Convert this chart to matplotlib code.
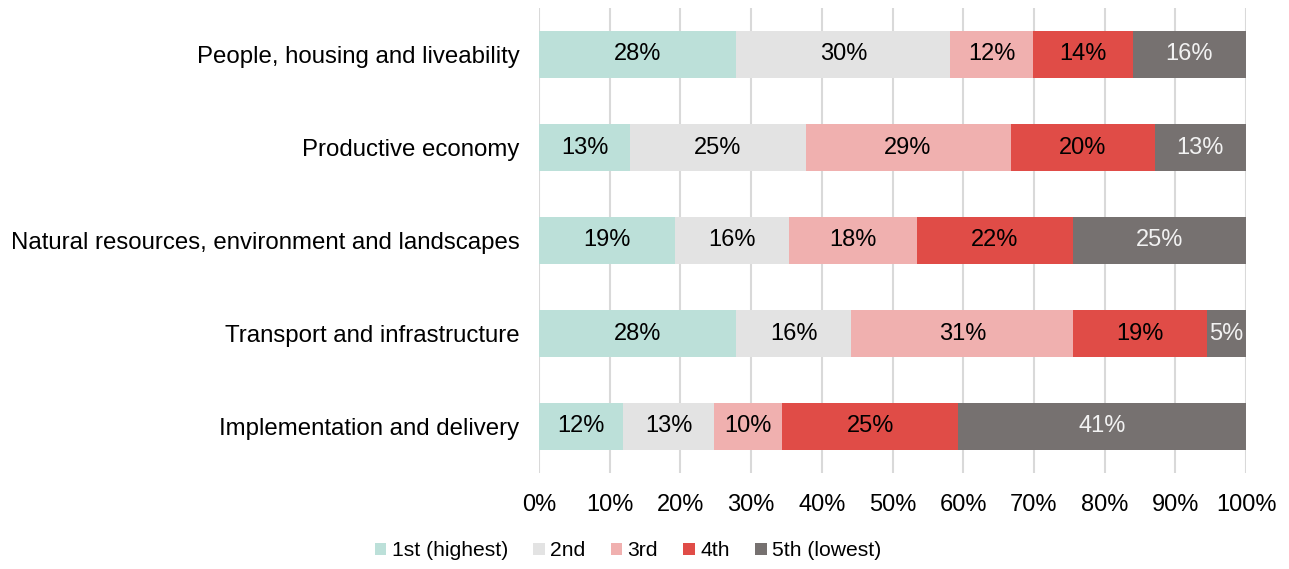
import matplotlib.pyplot as plt
import numpy as np
from matplotlib.ticker import PercentFormatter

plt.rcParams['font.family'] = ['Liberation Sans', 'DejaVu Sans']

categories = ["People, housing and liveability", "Productive economy",
              "Natural resources, environment and landscapes",
              "Transport and infrastructure", "Implementation and delivery"]
series_names = ["1st (highest)", "2nd", "3rd", "4th", "5th (lowest)"]
first = [27.9, 12.9, 19.2, 27.9, 11.9]
second = [30.3, 24.8, 16.2, 16.3, 12.9]
third = [11.7, 29.0, 18.1, 31.4, 9.6]
fourth = [14.1, 20.4, 22.0, 18.9, 24.9]
fifth = [16.0, 12.9, 24.5, 5.5, 40.7]
labels = [
    ["28%", "13%", "19%", "28%", "12%"],
    ["30%", "25%", "16%", "16%", "13%"],
    ["12%", "29%", "18%", "31%", "10%"],
    ["14%", "20%", "22%", "19%", "25%"],
    ["16%", "13%", "25%", "5%", "41%"],
]

colors = ["#bce0d9", "#e3e3e3", "#f0b0af", "#e04c47", "#767170"]
text_colors = ["black", "black", "black", "black", "#f2f2f2"]
FS = 17

fig = plt.figure(figsize=(12.89, 5.69), dpi=100)
ax = fig.add_axes([539 / 1289, 1 - 473 / 569, 707 / 1289, 465 / 569])

y = np.arange(len(categories))
left = np.zeros(len(categories))
for i, vals in enumerate([first, second, third, fourth, fifth]):
    vals = np.array(vals)
    ax.barh(y, vals, left=left, height=0.5, color=colors[i],
            label=series_names[i], zorder=3)
    for j in range(len(categories)):
        ax.text(left[j] + vals[j] / 2, y[j], labels[i][j], ha='center',
                va='center', fontsize=FS, color=text_colors[i], zorder=4)
    left += vals

ax.set_xlim(0, 100)
ax.set_ylim(len(categories) - 0.5, -0.5)
ax.set_yticks(y)
ax.set_yticklabels(categories, fontsize=17.3)
ax.set_xticks(np.arange(0, 101, 10))
ax.xaxis.set_major_formatter(PercentFormatter(decimals=0))
ax.tick_params(axis='x', labelsize=FS, length=0, pad=15)
ax.tick_params(axis='y', length=0, pad=14)
ax.grid(axis='x', color='#d9d9d9', linewidth=1.5, zorder=0)
for s in ax.spines.values():
    s.set_visible(False)

fig.legend(loc='center', bbox_to_anchor=(628 / 1289, 1 - 551 / 569), ncol=5,
           frameon=False, fontsize=15.2, handlelength=0.55, handleheight=0.55,
           handletextpad=0.25, columnspacing=1.2)

fig.savefig("out.png", dpi=100)
